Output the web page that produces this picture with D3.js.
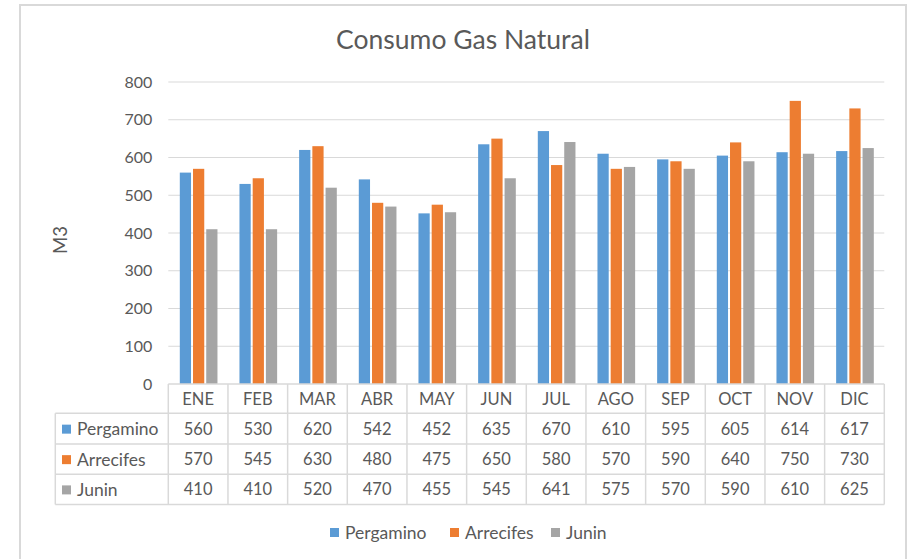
<!DOCTYPE html>
<html>
<head>
<meta charset="utf-8">
<script src="https://cdn.jsdelivr.net/npm/d3@7/dist/d3.min.js"></script>
<style>
  html, body { margin: 0; padding: 0; background: #fff; }
  svg { display: block; font-family: Lato, "Open Sans", sans-serif; }
</style>
</head>
<body>
<svg id="chart" width="910" height="559"></svg>
<script>
const title = "Consumo Gas Natural";
const yTitle = "M3";
const months = ["ENE","FEB","MAR","ABR","MAY","JUN","JUL","AGO","SEP","OCT","NOV","DIC"];
const seriesNames = ["Pergamino","Arrecifes","Junin"];
const pergamino = [560,530,620,542,452,635,670,610,595,605,614,617];
const arrecifes = [570,545,630,480,475,650,580,570,590,640,750,730];
const junin = [410,410,520,470,455,545,641,575,570,590,610,625];
const colors = ["#5B9BD5","#ED7D31","#A5A5A5"];
const yTicks = [0,100,200,300,400,500,600,700,800];

const seriesValues = [pergamino, arrecifes, junin];
const textColor = "#595959";
const lineColor = "#D9D9D9";

const svg = d3.select("#chart");
svg.append("rect").attr("width",910).attr("height",559).attr("fill","#fff");
// outer chart border
svg.append("rect").attr("x",20).attr("y",5).attr("width",886).attr("height",600)
  .attr("fill","none").attr("stroke","#D9D9D9").attr("stroke-width",2);

const plotL = 168.3, plotR = 884.3, plotT = 82, plotB = 384;
const x = d3.scaleBand().domain(months).range([plotL, plotR]);
const y = d3.scaleLinear().domain([0,800]).range([plotB, plotT]);
const xs = d3.scaleBand().domain(seriesNames).range([11.5, x.bandwidth()-10.5]).paddingInner(0.15);

// gridlines
svg.append("g").selectAll("line").data(yTicks.filter(d=>d>0)).join("line")
  .attr("x1",plotL).attr("x2",plotR)
  .attr("y1",d=>y(d)).attr("y2",d=>y(d))
  .attr("stroke",lineColor).attr("stroke-width",1);

// y axis labels
const yAxis = d3.axisLeft(y).tickValues(yTicks).tickSize(0).tickPadding(0);
const ya = svg.append("g").attr("transform",`translate(${plotL-16},0)`).call(yAxis);
ya.select(".domain").remove();
ya.selectAll("text").attr("fill",textColor).style("font-size","16px").style("font-family","Lato, sans-serif");

// bars
const gBars = svg.append("g");
seriesNames.forEach((s,si)=>{
  gBars.append("g").selectAll("rect").data(seriesValues[si]).join("rect")
    .attr("x",(d,i)=>x(months[i])+xs(s))
    .attr("width",xs.bandwidth())
    .attr("y",d=>y(d))
    .attr("height",d=>plotB-y(d))
    .attr("fill",colors[si]);
});

// title
svg.append("text").attr("x",463).attr("y",49).attr("text-anchor","middle")
  .attr("fill",textColor).style("font-size","26.5px").text(title);

// y title
svg.append("text").attr("transform","translate(67,240) rotate(-90)")
  .attr("text-anchor","middle").attr("fill",textColor).style("font-size","18.5px").text(yTitle);

// data table
const rowY = [384, 413.3, 444, 474.3, 504.5];
const tableL = 55.3;
const gT = svg.append("g");
gT.append("line").attr("x1",plotL).attr("x2",plotR).attr("y1",rowY[0]).attr("y2",rowY[0])
  .attr("stroke",lineColor).attr("stroke-width",1.5);
rowY.slice(1).forEach(yy=>{
  gT.append("line").attr("x1",tableL).attr("x2",plotR).attr("y1",yy).attr("y2",yy)
    .attr("stroke",lineColor).attr("stroke-width",1.5);
});
gT.append("line").attr("x1",tableL).attr("x2",tableL).attr("y1",rowY[1]).attr("y2",rowY[4])
  .attr("stroke",lineColor).attr("stroke-width",1.5);
months.forEach((m,i)=>{
  gT.append("line").attr("x1",x(m)).attr("x2",x(m)).attr("y1",rowY[0]).attr("y2",rowY[4])
    .attr("stroke",lineColor).attr("stroke-width",1.5);
});
gT.append("line").attr("x1",plotR).attr("x2",plotR).attr("y1",rowY[0]).attr("y2",rowY[4])
  .attr("stroke",lineColor).attr("stroke-width",1.5);

// header
gT.selectAll("text.hdr").data(months).join("text").attr("class","hdr")
  .attr("x",d=>x(d)+x.bandwidth()/2).attr("y",(rowY[0]+rowY[1])/2)
  .attr("text-anchor","middle").attr("dominant-baseline","central")
  .attr("fill",textColor).style("font-size","16.5px").text(d=>d);

seriesNames.forEach((s,si)=>{
  const cy = (rowY[si+1]+rowY[si+2])/2;
  gT.append("rect").attr("x",62).attr("y",cy-4).attr("width",9).attr("height",9).attr("fill",colors[si]);
  gT.append("text").attr("x",77).attr("y",cy).attr("dominant-baseline","central")
    .attr("fill",textColor).style("font-size","17.5px").text(s);
  gT.selectAll(null).data(seriesValues[si]).join("text")
    .attr("x",(d,i)=>x(months[i])+x.bandwidth()/2).attr("y",cy)
    .attr("text-anchor","middle").attr("dominant-baseline","central")
    .attr("fill",textColor).style("font-size","16.5px").text(d=>d);
});

// legend
const legX = [330, 450, 551];
const legY = 532;
const gL = svg.append("g");
seriesNames.forEach((s,si)=>{
  gL.append("rect").attr("x",legX[si]).attr("y",legY-4).attr("width",9).attr("height",9).attr("fill",colors[si]);
  gL.append("text").attr("x",legX[si]+15).attr("y",legY).attr("dominant-baseline","central")
    .attr("fill",textColor).style("font-size","17.5px").text(s);
});
</script>
</body>
</html>
